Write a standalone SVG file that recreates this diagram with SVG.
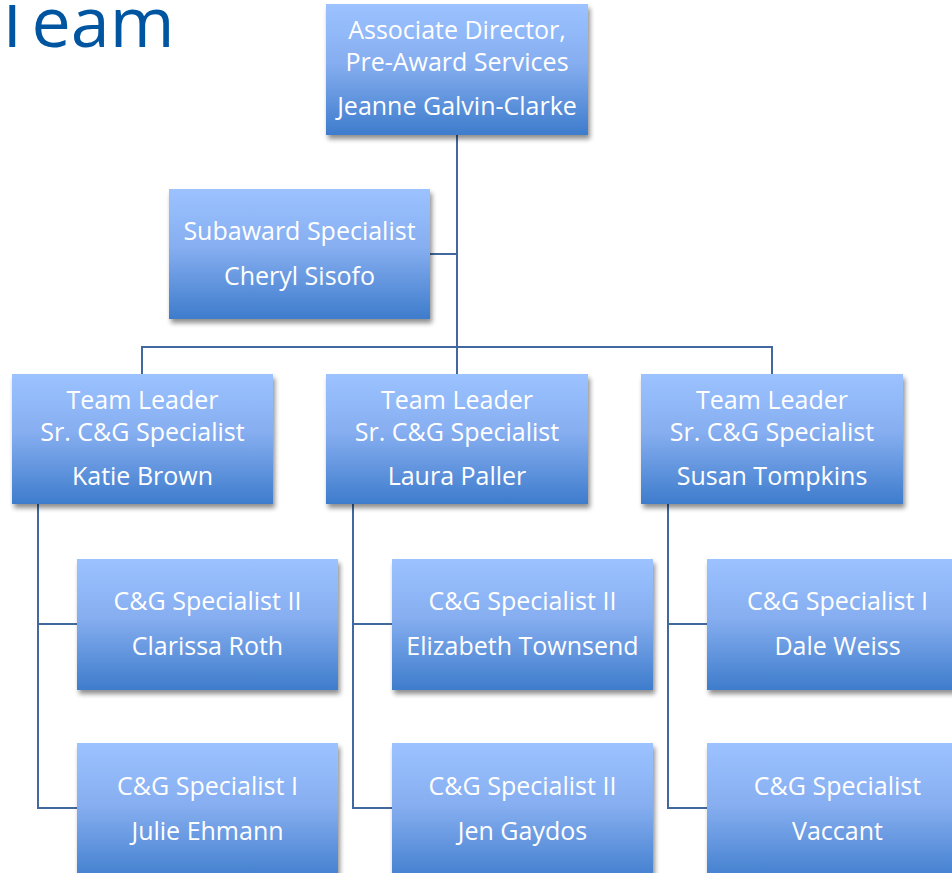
<svg xmlns="http://www.w3.org/2000/svg" width="952" height="873" viewBox="0 0 952 873">
<defs>
<linearGradient id="g" x1="0" y1="0" x2="0" y2="1">
<stop offset="0" stop-color="#9cc2ff"/>
<stop offset="0.45" stop-color="#86aef0"/>
<stop offset="1" stop-color="#3e7ccc"/>
</linearGradient>
<filter id="sh" x="-10%" y="-10%" width="125%" height="130%">
<feGaussianBlur in="SourceAlpha" stdDeviation="2.5"/>
<feOffset dx="2" dy="4" result="b"/>
<feComponentTransfer><feFuncA type="linear" slope="0.45"/></feComponentTransfer>
<feMerge><feMergeNode/><feMergeNode in="SourceGraphic"/></feMerge>
</filter>
<clipPath id="tc"><rect x="0" y="5" width="300" height="80"/></clipPath>
</defs>
<style>
.box{fill:url(#g);filter:url(#sh)}
.t{font-family:"Open Sans","Noto Sans",sans-serif;font-size:25px;fill:#ffffff;text-anchor:middle}
.c{stroke:#41699f;stroke-width:2;fill:none}
.title{font-family:"Open Sans","Noto Sans",sans-serif;font-size:70px;fill:#0055a0}
</style>
<rect width="952" height="873" fill="#ffffff"/>
<text class="title" x="-7" y="47" clip-path="url(#tc)">Team</text>
<g id="connectors">
<path class="c" d="M457 135V347M430 254H457M142 374V347H772V374M457 347V374"/>
<path class="c" d="M38 504V808H77M38 624H77"/>
<path class="c" d="M353 504V808H392M353 624H392"/>
<path class="c" d="M668 504V808H707M668 624H707"/>
</g>
<g id="director"><rect class="box" x="326" y="4" width="262" height="131"/>
<text class="t" x="457" y="39">Associate Director,</text><text class="t" x="457" y="71">Pre-Award Services</text><text class="t" x="457" y="115">Jeanne Galvin-Clarke</text></g>
<g id="subaward"><rect class="box" x="169" y="189" width="261" height="130"/>
<text class="t" x="299.5" y="240">Subaward Specialist</text><text class="t" x="299.5" y="285">Cheryl Sisofo</text></g>
<g id="lead1"><rect class="box" x="12" y="374" width="261" height="130"/>
<text class="t" x="142.5" y="409">Team Leader</text><text class="t" x="142.5" y="441">Sr. C&amp;G Specialist</text><text class="t" x="142.5" y="485">Katie Brown</text></g>
<g id="lead2"><rect class="box" x="326" y="374" width="262" height="130"/>
<text class="t" x="457" y="409">Team Leader</text><text class="t" x="457" y="441">Sr. C&amp;G Specialist</text><text class="t" x="457" y="485">Laura Paller</text></g>
<g id="lead3"><rect class="box" x="641" y="374" width="262" height="130"/>
<text class="t" x="772" y="409">Team Leader</text><text class="t" x="772" y="441">Sr. C&amp;G Specialist</text><text class="t" x="772" y="485">Susan Tompkins</text></g>
<g id="spec1a"><rect class="box" x="77" y="559" width="261" height="131"/>
<text class="t" x="207.5" y="610">C&amp;G Specialist II</text><text class="t" x="207.5" y="655">Clarissa Roth</text></g>
<g id="spec1b"><rect class="box" x="77" y="743" width="261" height="140"/>
<text class="t" x="207.5" y="795">C&amp;G Specialist I</text><text class="t" x="207.5" y="840">Julie Ehmann</text></g>
<g id="spec2a"><rect class="box" x="392" y="559" width="261" height="131"/>
<text class="t" x="522.5" y="610">C&amp;G Specialist II</text><text class="t" x="522.5" y="655">Elizabeth Townsend</text></g>
<g id="spec2b"><rect class="box" x="392" y="743" width="261" height="140"/>
<text class="t" x="522.5" y="795">C&amp;G Specialist II</text><text class="t" x="522.5" y="840">Jen Gaydos</text></g>
<g id="spec3a"><rect class="box" x="707" y="559" width="261" height="131"/>
<text class="t" x="837.5" y="610">C&amp;G Specialist I</text><text class="t" x="837.5" y="655">Dale Weiss</text></g>
<g id="spec3b"><rect class="box" x="707" y="743" width="261" height="140"/>
<text class="t" x="837.5" y="795">C&amp;G Specialist</text><text class="t" x="837.5" y="840">Vaccant</text></g>
</svg>
